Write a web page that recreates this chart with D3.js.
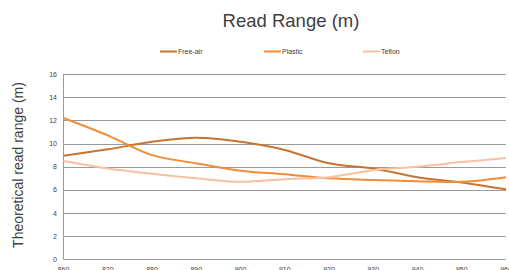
<!DOCTYPE html>
<html><head><meta charset="utf-8">
<script src="https://cdn.jsdelivr.net/npm/d3@7"></script>
<style>body{margin:0;background:#fff;overflow:hidden}svg{display:block}</style>
</head><body>
<script>
const frequencies = [860,870,880,890,900,910,920,930,940,950,960];
const freeAir = [8.95,9.5,10.15,10.5,10.15,9.45,8.3,7.85,7.1,6.65,6.05];
const plastic = [12.2,10.7,9.0,8.3,7.65,7.35,7.0,6.85,6.75,6.7,7.1];
const teflon = [8.5,7.85,7.4,7.0,6.7,6.93,7.1,7.7,8.0,8.4,8.75];
const seriesNames = ["Free-air","Plastic","Teflon"];
const seriesColors = ["#c8742f","#f28c35","#f9c1a2"];
const yTicks = [0,2,4,6,8,10,12,14,16];
const xTicks = [860,870,880,890,900,910,920,930,940,950,960];

const W=509,H=270;
const svg=d3.select("body").append("svg").attr("width",W).attr("height",H);
const x=d3.scaleLinear().domain([860,960]).range([63.5,506]);
const y=d3.scaleLinear().domain([0,16]).range([259.5,74]);

// gridlines
svg.append("g").selectAll("line").data(yTicks.filter(d=>d>0)).join("line")
  .attr("x1",x(860)).attr("x2",x(960)).attr("y1",d=>Math.round(y(d))+0.5).attr("y2",d=>Math.round(y(d))+0.5)
  .attr("stroke","#9a9a9a").attr("stroke-width",1);
// axes lines
svg.append("line").attr("x1",63.5).attr("x2",63.5).attr("y1",y(16)).attr("y2",259.5).attr("stroke","#9a9a9a");
svg.append("line").attr("x1",63.5).attr("x2",506).attr("y1",259.5).attr("y2",259.5).attr("stroke","#9a9a9a");

// y tick labels
svg.append("g").selectAll("text").data(yTicks).join("text")
  .attr("x",57).attr("y",d=>y(d)+2.5).attr("text-anchor","end")
  .attr("font-family","Liberation Sans, Arial, sans-serif").attr("font-size",7).attr("fill","#404040").text(d=>d);
// x tick labels
svg.append("g").selectAll("text").data(xTicks).join("text")
  .attr("x",d=>x(d)).attr("y",271.5).attr("text-anchor","middle")
  .attr("font-family","Liberation Sans, Arial, sans-serif").attr("font-size",7).attr("fill","#404040").text(d=>d);

// title
svg.append("text").attr("x",291).attr("y",27).attr("text-anchor","middle")
  .attr("font-family","Liberation Sans, Arial, sans-serif").attr("font-size",18.5).attr("fill","#404040").text("Read Range (m)");
// y axis title
svg.append("text").attr("transform","translate(23,165) rotate(-90)").attr("text-anchor","middle")
  .attr("font-family","Liberation Sans, Arial, sans-serif").attr("font-size",14).attr("fill","#404040").text("Theoretical read range (m)");

// lines
const data=[freeAir,plastic,teflon];
const line=d3.line().x((d,i)=>x(frequencies[i])).y(d=>y(d)).curve(d3.curveCatmullRom.alpha(0.5));
svg.append("g").selectAll("path").data(data).join("path")
  .attr("d",d=>line(d)).attr("fill","none").attr("stroke",(d,i)=>seriesColors[i]).attr("stroke-width",2);

// legend
const legX=[160,264,363];
const leg=svg.append("g").selectAll("g").data(seriesNames).join("g").attr("transform",(d,i)=>`translate(${legX[i]},51.5)`);
leg.append("line").attr("x1",0).attr("x2",17).attr("stroke",(d,i)=>seriesColors[i]).attr("stroke-width",2);
leg.append("text").attr("x",18).attr("y",2.5).attr("font-family","Liberation Sans, Arial, sans-serif").attr("font-size",7).attr("fill","#404040").text(d=>d);
</script>
</body></html>
